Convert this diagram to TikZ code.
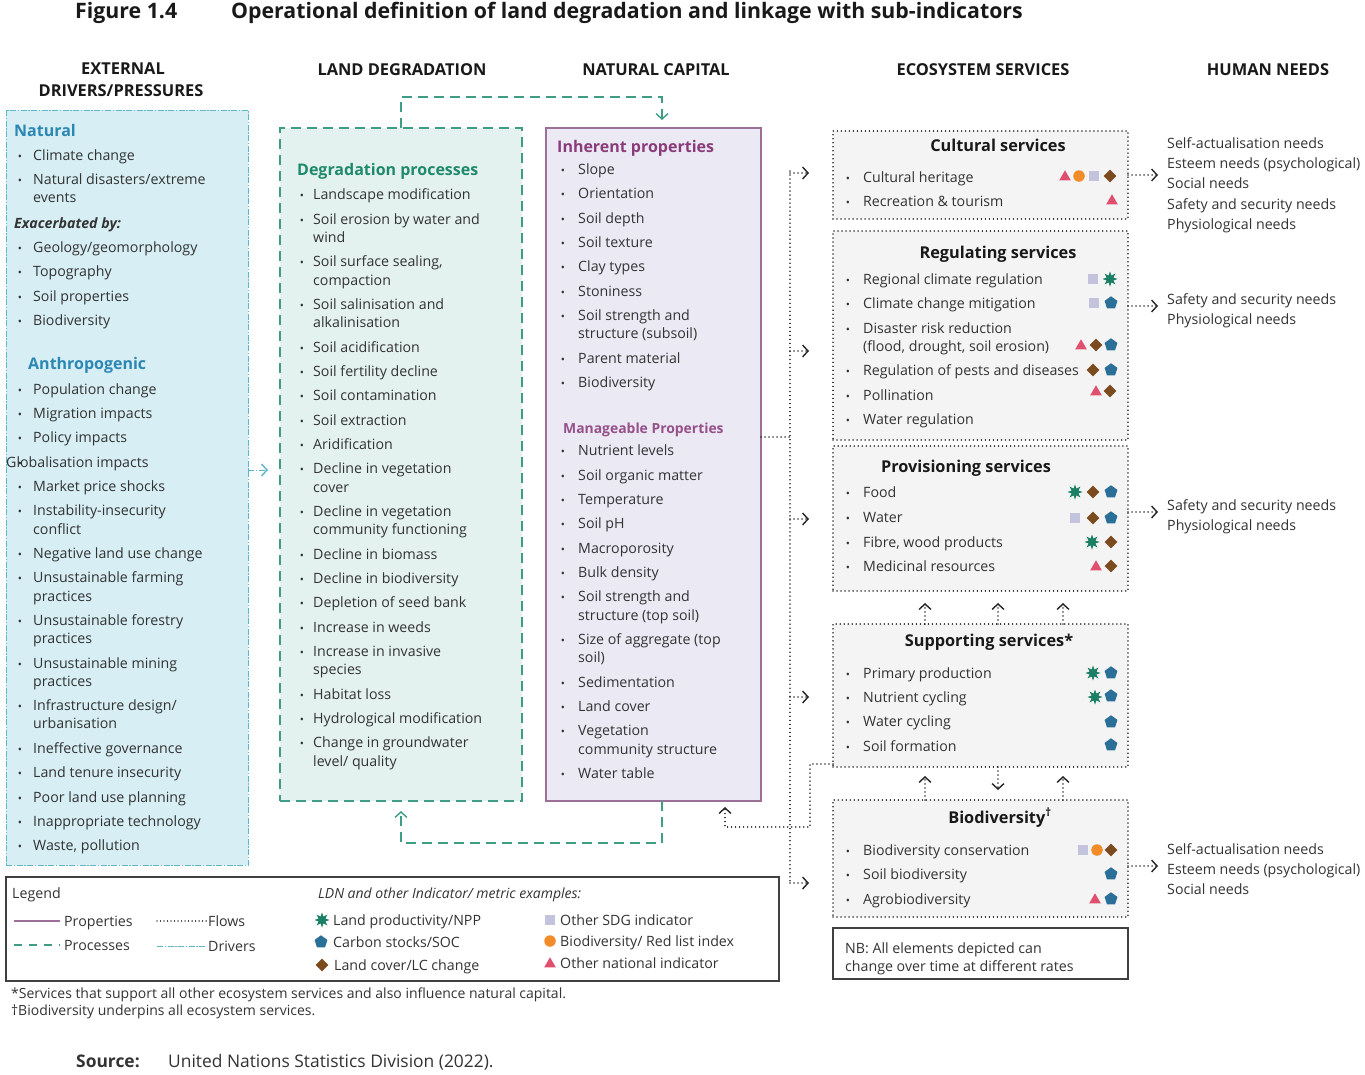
\documentclass[tikz,border=0pt]{standalone}
\usepackage{fontspec}
\setmainfont{Open Sans}
\usetikzlibrary{arrows.meta,shapes.geometric}
\definecolor{txtc}{HTML}{333333}
\definecolor{drvfill}{HTML}{D6EEF4}
\definecolor{drvline}{HTML}{5BB6C9}
\definecolor{natblue}{HTML}{2B87B3}
\definecolor{degfill}{HTML}{E4F2EF}
\definecolor{degline}{HTML}{3F9C87}
\definecolor{degtitle}{HTML}{1F8A6A}
\definecolor{ncfill}{HTML}{EBE9F4}
\definecolor{ncline}{HTML}{9B6F98}
\definecolor{nctitle}{HTML}{8A3B7A}
\definecolor{mgtitle}{HTML}{97508A}
\definecolor{svcfill}{HTML}{F4F4F4}
\definecolor{cstar}{HTML}{1A7F64}
\definecolor{cpent}{HTML}{2A6F97}
\definecolor{cdia}{HTML}{7B4A1E}
\definecolor{csq}{HTML}{C3C3DD}
\definecolor{ccirc}{HTML}{F28C28}
\definecolor{ctri}{HTML}{E0506E}
\newcounter{nid}
\newcommand\BX{0}\newcommand\TX{0}
\newcommand\SetX[2]{\renewcommand\BX{#1}\renewcommand\TX{#2}}
\newcommand\Itm[2]{\stepcounter{nid}\node[bul] (u\arabic{nid}) at (\BX,#1) {\textbullet};\node[txt] (l\arabic{nid}) at (\TX,#1) {#2};}
\newcommand\Cnt[2]{\stepcounter{nid}\node[txt] (l\arabic{nid}) at (\TX,#1) {#2};}
\newcommand\Icn[3]{\stepcounter{nid}\node[#1] (k\arabic{nid}) at (#2,#3) {};}
\newcommand\Hnd[2]{\stepcounter{nid}\node[txt] (h\arabic{nid}) at (1167,#1) {#2};}
\begin{document}
\begin{tikzpicture}[x=1pt,y=-1pt,
  txt/.style={anchor=base west, inner sep=0pt, font=\fontsize{14.2}{17}\selectfont, text=txtc},
  bul/.style={anchor=base, inner sep=0pt, font=\fontsize{11}{13}\selectfont, text=txtc},
  ctitle/.style={anchor=base west, inner sep=0pt, font=\bfseries\fontsize{16}{19}\selectfont},
  svtitle/.style={anchor=base, inner sep=0pt, font=\bfseries\fontsize{16.3}{19}\selectfont, text=black!90},
  colhead/.style={anchor=base, inner sep=0pt, font=\bfseries\fontsize{16.4}{19}\selectfont, text=black!90},
  box/.style={anchor=north west, inner sep=0pt, outer sep=0pt},
  drvl/.style={draw=drvline, line width=1pt, dash pattern=on 6pt off 1.5pt on 1.5pt off 1.5pt},
  procl/.style={draw=degline, line width=1.6pt, dash pattern=on 10pt off 6pt},
  ncl/.style={draw=ncline, line width=1.8pt},
  flow/.style={draw=black!85, line width=1.5pt, line cap=round, dash pattern=on 0.01pt off 4pt},
  tip/.style={-{Straight Barb[length=5.5pt,width=12pt,line width=1.4pt]}},
  ic/.style={inner sep=0pt, draw=none},
  icst/.style={ic, star, star points=8, star point ratio=2, minimum size=15, fill=cstar},
  icpe/.style={ic, regular polygon, regular polygon sides=5, minimum size=13.5, fill=cpent},
  icdi/.style={ic, diamond, minimum size=13, fill=cdia},
  icsq/.style={ic, rectangle, minimum size=9.5, fill=csq},
  icci/.style={ic, circle, minimum size=11.5, fill=ccirc},
  ictr/.style={ic, regular polygon, regular polygon sides=3, minimum size=13.5, fill=ctri},
]
\useasboundingbox (0,0) rectangle (1365,1074);
\fill[white] (0,0) rectangle (1365,1074);
% ---------- title ----------
\node[anchor=base west, inner sep=0pt, font=\bfseries\fontsize{21.3}{25}\selectfont, text=black!90] (ttl1) at (75,18) {Figure 1.4};
\node[anchor=base west, inner sep=0pt, font=\bfseries\fontsize{21.3}{25}\selectfont, text=black!90] (ttl2) at (231,18) {Operational definition of land degradation and linkage with sub-indicators};
% ---------- column headers ----------
\node[colhead] (hd1a) at (123,74) {EXTERNAL};
\node[colhead] (hd1b) at (121,96) {DRIVERS/PRESSURES};
\node[colhead] (hd2) at (402,75) {LAND DEGRADATION};
\node[colhead] (hd3) at (656,75) {NATURAL CAPITAL};
\node[colhead] (hd4) at (983,75) {ECOSYSTEM SERVICES};
\node[colhead] (hd5) at (1268,75) {HUMAN NEEDS};
% ---------- boxes ----------
\node[box, fill=drvfill, drvl, minimum width=242, minimum height=755] (drv) at (6,110) {};
\node[box, fill=degfill, procl, minimum width=242, minimum height=673] (deg) at (280,128) {};
\node[box, fill=ncfill, ncl, minimum width=215, minimum height=673] (nc) at (546,128) {};
\node[box, fill=svcfill, flow, minimum width=295, minimum height=88] (cult) at (833,131) {};
\node[box, fill=svcfill, flow, minimum width=295, minimum height=209] (reg) at (833,231) {};
\node[box, fill=svcfill, flow, minimum width=295, minimum height=145] (prov) at (833,446) {};
\node[box, fill=svcfill, flow, minimum width=295, minimum height=143] (supp) at (833,624) {};
\node[box, fill=svcfill, flow, minimum width=295, minimum height=117] (bio) at (833,800) {};
\node[box, fill=white, draw=black!75, line width=1.2pt, minimum width=295, minimum height=51] (nb) at (833,928) {};
\node[box, fill=white, draw=black!75, line width=1.2pt, minimum width=773, minimum height=104] (leg) at (6,877) {};
% ---------- drivers box ----------
\node[ctitle, text=natblue] (natt) at (14,136) {Natural};
\SetX{20}{33}
\Itm{160}{Climate change}
\Itm{184}{Natural disasters/extreme}
\Cnt{202}{events}
\node[anchor=base west, inner sep=0pt, font=\bfseries\itshape\fontsize{14.2}{17}\selectfont, text=txtc] (exb) at (14,228) {Exacerbated by:};
\Itm{252}{Geology/geomorphology}
\Itm{276}{Topography}
\Itm{301}{Soil properties}
\Itm{325}{Biodiversity}
\node[ctitle, text=natblue] (antt) at (28,369) {Anthropogenic};
\Itm{394}{Population change}
\Itm{418}{Migration impacts}
\Itm{442}{Policy impacts}
\node[bul] (gbul) at (20,467) {\textbullet};
\node[txt] (glob) at (6,467) {Globalisation impacts};
\Itm{491}{Market price shocks}
\Itm{515}{Instability-insecurity}
\Cnt{534}{conflict}
\Itm{558}{Negative land use change}
\Itm{582}{Unsustainable farming}
\Cnt{601}{practices}
\Itm{625}{Unsustainable forestry}
\Cnt{643}{practices}
\Itm{668}{Unsustainable mining}
\Cnt{686}{practices}
\Itm{710}{Infrastructure design/}
\Cnt{728}{urbanisation}
\Itm{753}{Ineffective governance}
\Itm{777}{Land tenure insecurity}
\Itm{802}{Poor land use planning}
\Itm{826}{Inappropriate technology}
\Itm{850}{Waste, pollution}
% ---------- degradation box ----------
\node[ctitle, text=degtitle] (degt) at (297,175) {Degradation processes};
\SetX{302}{313}
\Itm{199}{Landscape modification}
\Itm{224}{Soil erosion by water and}
\Cnt{242}{wind}
\Itm{266}{Soil surface sealing,}
\Cnt{285}{compaction}
\Itm{309}{Soil salinisation and}
\Cnt{327}{alkalinisation}
\Itm{352}{Soil acidification}
\Itm{376}{Soil fertility decline}
\Itm{400}{Soil contamination}
\Itm{425}{Soil extraction}
\Itm{449}{Aridification}
\Itm{473}{Decline in vegetation}
\Cnt{492}{cover}
\Itm{516}{Decline in vegetation}
\Cnt{534}{community functioning}
\Itm{559}{Decline in biomass}
\Itm{583}{Decline in biodiversity}
\Itm{607}{Depletion of seed bank}
\Itm{632}{Increase in weeds}
\Itm{656}{Increase in invasive}
\Cnt{674}{species}
\Itm{699}{Habitat loss}
\Itm{723}{Hydrological modification}
\Itm{747}{Change in groundwater}
\Cnt{766}{level/ quality}
% ---------- natural capital box ----------
\node[ctitle, text=nctitle] (inht) at (557,152) {Inherent properties};
\SetX{563}{578}
\Itm{174}{Slope}
\Itm{198}{Orientation}
\Itm{223}{Soil depth}
\Itm{247}{Soil texture}
\Itm{271}{Clay types}
\Itm{296}{Stoniness}
\Itm{320}{Soil strength and}
\Cnt{338}{structure (subsoil)}
\Itm{363}{Parent material}
\Itm{387}{Biodiversity}
\node[anchor=base west, inner sep=0pt, font=\bfseries\fontsize{13.9}{17}\selectfont, text=mgtitle] (mant) at (563,433) {Manageable Properties};
\Itm{455}{Nutrient levels}
\Itm{480}{Soil organic matter}
\Itm{504}{Temperature}
\Itm{528}{Soil pH}
\Itm{553}{Macroporosity}
\Itm{577}{Bulk density}
\Itm{601}{Soil strength and}
\Cnt{620}{structure (top soil)}
\Itm{644}{Size of aggregate (top}
\Cnt{662}{soil)}
\Itm{687}{Sedimentation}
\Itm{711}{Land cover}
\Itm{735}{Vegetation}
\Cnt{754}{community structure}
\Itm{778}{Water table}
% ---------- ecosystem services ----------
\SetX{848}{863}
\node[svtitle] (cultt) at (998,151) {Cultural services};
\Itm{182}{Cultural heritage}
\Icn{ictr}{1065}{177}\Icn{icci}{1079}{176}\Icn{icsq}{1094}{176}\Icn{icdi}{1110}{176}
\Itm{206}{Recreation \& tourism}
\Icn{ictr}{1112}{201}
\node[svtitle] (regt) at (998,258) {Regulating services};
\Itm{284}{Regional climate regulation}
\Icn{icsq}{1093}{279}\Icn{icst}{1110}{279}
\Itm{308}{Climate change mitigation}
\Icn{icsq}{1094}{303}\Icn{icpe}{1111}{303}
\Itm{333}{Disaster risk reduction}
\Cnt{351}{(flood, drought, soil erosion)}
\Icn{ictr}{1081}{346}\Icn{icdi}{1096}{345}\Icn{icpe}{1111}{345}
\Itm{375}{Regulation of pests and diseases}
\Icn{icdi}{1093}{370}\Icn{icpe}{1111}{370}
\Itm{400}{Pollination}
\Icn{ictr}{1096}{392}\Icn{icdi}{1110}{391}
\Itm{424}{Water regulation}
\node[svtitle] (provt) at (966,472) {Provisioning services};
\Itm{497}{Food}
\Icn{icst}{1075}{492}\Icn{icdi}{1093}{492}\Icn{icpe}{1111}{492}
\Itm{522}{Water}
\Icn{icsq}{1075}{518}\Icn{icdi}{1093}{518}\Icn{icpe}{1111}{518}
\Itm{547}{Fibre, wood products}
\Icn{icst}{1092}{542}\Icn{icdi}{1111}{542}
\Itm{571}{Medicinal resources}
\Icn{ictr}{1096}{567}\Icn{icdi}{1111}{566}
\node[svtitle] (suppt) at (989,646) {Supporting services*};
\Itm{678}{Primary production}
\Icn{icst}{1093}{673}\Icn{icpe}{1111}{673}
\Itm{702}{Nutrient cycling}
\Icn{icst}{1095}{697}\Icn{icpe}{1111}{696}
\Itm{726}{Water cycling}
\Icn{icpe}{1111}{722}
\Itm{751}{Soil formation}
\Icn{icpe}{1111}{745}
\node[svtitle] (biot) at (1000,823) {Biodiversity\textsuperscript{†}};
\Itm{855}{Biodiversity conservation}
\Icn{icsq}{1083}{850}\Icn{icci}{1097}{850}\Icn{icdi}{1111}{850}
\Itm{879}{Soil biodiversity}
\Icn{icpe}{1111}{874}
\Itm{904}{Agrobiodiversity}
\Icn{ictr}{1095}{900}\Icn{icpe}{1111}{899}
\node[txt] (nb1) at (845,953) {NB: All elements depicted can};
\node[txt] (nb2) at (845,971) {change over time at different rates};
% ---------- human needs ----------
\Hnd{148}{Self-actualisation needs}
\Hnd{168}{Esteem needs (psychological)}
\Hnd{188}{Social needs}
\Hnd{209}{Safety and security needs}
\Hnd{229}{Physiological needs}
\Hnd{304}{Safety and security needs}
\Hnd{324}{Physiological needs}
\Hnd{510}{Safety and security needs}
\Hnd{530}{Physiological needs}
\Hnd{854}{Self-actualisation needs}
\Hnd{874}{Esteem needs (psychological)}
\Hnd{894}{Social needs}
% ---------- connectors ----------
\coordinate (dy) at (0,470);
\draw[drvl, tip, shorten >=12pt] (drv.east |- dy) -- (deg.west |- dy);
\coordinate (p1) at (401,97); \coordinate (p2) at (662,97);
\draw[procl, tip, shorten >=8pt] (deg.north -| p1) -- (p1) -- (p2) -- (nc.north -| p2);
\coordinate (p3) at (662,843); \coordinate (p4) at (401,843);
\draw[procl, tip, shorten >=10pt] (nc.south -| p3) -- (p3) -- (p4) -- (deg.south -| p4);
\coordinate (ncy) at (790,437);
\coordinate (vt) at (790,171); \coordinate (vb) at (790,883);
\draw[flow] (nc.east |- ncy) -- (ncy);
\draw[flow] (vt) -- (vb);
\foreach \n/\yy in {cult/173,reg/351,prov/519,supp/697,bio/883}{
  \coordinate (f\n) at (790,\yy);
  \draw[flow, tip, shorten >=24pt] (f\n) -- (\n.west |- f\n);
}
\coordinate (cx1) at (925,0); \coordinate (cx2) at (998,0); \coordinate (cx3) at (1063,0);
\foreach \c in {cx1,cx2,cx3}{
  \draw[flow, tip, shorten >=12pt] (supp.north -| \c) -- (prov.south -| \c);
}
\draw[flow, tip, shorten >=9pt] (bio.north -| cx1) -- (supp.south -| cx1);
\draw[flow, tip, shorten >=10pt] (supp.south -| cx2) -- (bio.north -| cx2);
\draw[flow, tip, shorten >=9pt] (bio.north -| cx3) -- (supp.south -| cx3);
\coordinate (sp1) at (810,764); \coordinate (sp2) at (810,827); \coordinate (sp3) at (725,827);
\draw[flow, tip, shorten >=6pt] (supp.west |- sp1) -- (sp1) -- (sp2) -- (sp3) -- (nc.south -| sp3);
\foreach \n/\h/\yy in {cult/1/175,reg/2/306,prov/3/512,bio/4/866}{
  \coordinate (hn\h) at (1167,\yy);
  \draw[flow, tip, shorten >=9pt] (\n.east |- hn\h) -- (hn\h);
}
% ---------- legend ----------
\node[txt] (lg) at (12,898) {Legend};
\draw[ncl, line width=1.4pt] (14,921) -- (60,921);
\node[txt] (lg1) at (64,926) {Properties};
\draw[procl, line width=1.4pt, dash pattern=on 8pt off 7pt] (14,945) -- (60,945);
\node[txt] (lg2) at (64,950) {Processes};
\draw[flow, line width=1.3pt, dash pattern=on 0.01pt off 3.5pt] (157,921) -- (207,921);
\node[txt] (lg3) at (208,926) {Flows};
\draw[drvl] (157,946) -- (205,946);
\node[txt] (lg4) at (208,951) {Drivers};
\node[anchor=base west, inner sep=0pt, font=\itshape\fontsize{14}{17}\selectfont, text=txtc] (lgt) at (318,898) {LDN and other Indicator/ metric examples:};
\Icn{icst}{322}{920}\node[txt] (lg5) at (333,925) {Land productivity/NPP};
\Icn{icpe}{321}{942}\node[txt] (lg6) at (333,947) {Carbon stocks/SOC};
\Icn{icdi}{322}{965}\node[txt] (lg7) at (334,970) {Land cover/LC change};
\Icn{icsq}{550}{920}\node[txt] (lg8) at (560,925) {Other SDG indicator};
\Icn{icci}{550}{941}\node[txt] (lg9) at (560,946) {Biodiversity/ Red list index};
\Icn{ictr}{550}{964}\node[txt] (lg10) at (560,968) {Other national indicator};
% ---------- footnotes ----------
\node[anchor=base west, inner sep=0pt, font=\fontsize{14}{16}\selectfont, text=txtc] (fn1) at (11,998) {*Services that support all other ecosystem services and also influence natural capital.};
\node[anchor=base west, inner sep=0pt, font=\fontsize{14}{16}\selectfont, text=txtc] (fn2) at (11,1015) {†Biodiversity underpins all ecosystem services.};
\node[anchor=base west, inner sep=0pt, font=\bfseries\fontsize{17.4}{20}\selectfont, text=txtc] (src1) at (76,1067) {Source:};
\node[anchor=base west, inner sep=0pt, font=\fontsize{17.4}{20}\selectfont, text=txtc] (src2) at (168,1067) {United Nations Statistics Division (2022).};
\end{tikzpicture}
\end{document}
